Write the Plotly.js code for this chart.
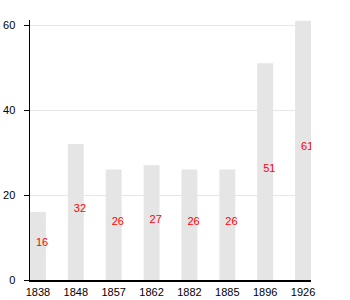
<!DOCTYPE html>
<html><head><meta charset="utf-8">
<script src="https://cdn.plot.ly/plotly-3.0.1.min.js"></script>
<style>html,body{margin:0;padding:0;background:#fff}</style>
</head><body><div id="chart" style="width:350px;height:300px"></div>
<script>
const years = ['1838','1848','1857','1862','1882','1885','1896','1926'];
const values = [16, 32, 26, 27, 26, 26, 51, 61];
const labelY = values.map(v => v / 2);
const labelText = values.map(v => String(v));

const bars = {
  type: 'bar', x: years, y: values,
  marker: {color: '#e5e5e5'}, width: 0.42, hoverinfo: 'none'
};
const labels = {
  type: 'scatter', mode: 'text', x: years, y: labelY, text: labelText,
  textposition: 'middle center', xaxis: 'x2', yaxis: 'y2', hoverinfo: 'none',
  textfont: {family: 'Liberation Sans, Arial, sans-serif', size: 11, color: '#ff0000'}
};

const layout = {
  width: 350, height: 300,
  margin: {l: 30, r: 39, t: 20, b: 20, pad: 0},
  paper_bgcolor: '#fff', plot_bgcolor: '#fff',
  font: {family: 'Liberation Sans, Arial, sans-serif', size: 11, color: '#000'},
  showlegend: false,
  xaxis: {type: 'category', range: [-0.21, 7.21], showline: true, linecolor: '#000', linewidth: 1.5,
    ticks: '', showgrid: false, zeroline: false, ticklabelstandoff: 1,
    tickfont: {size: 11, color: '#000'}},
  xaxis2: {type: 'category', overlaying: 'x', range: [-0.32, 7.10], visible: false,
    categoryorder: 'array', categoryarray: years},
  yaxis: {range: [0, 61.2], showline: true, linecolor: '#000', linewidth: 1.5,
    ticks: 'outside', ticklen: 5, tickcolor: '#000', tickvals: [0, 20, 40, 60],
    showgrid: true, gridcolor: '#e6e6e6', zeroline: false, ticklabelstandoff: 6,
    tickfont: {size: 11, color: '#000'}},
  yaxis2: {overlaying: 'y', range: [-0.65, 60.55], visible: false}
};

Plotly.newPlot('chart', [bars, labels], layout, {displayModeBar: false, staticPlot: true});
</script></body></html>
